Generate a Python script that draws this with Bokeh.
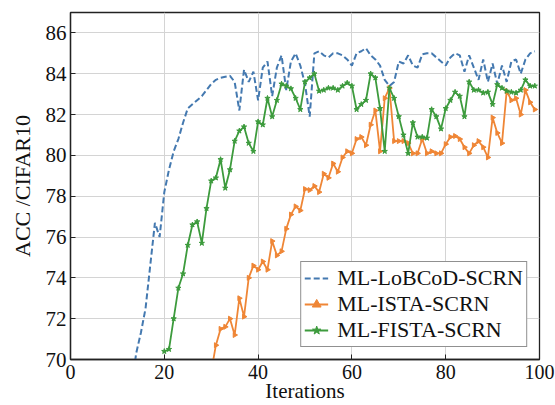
import math
from bokeh.plotting import figure
from bokeh.models import FixedTicker, Legend, LegendItem, Range1d
from bokeh.embed import file_html
from bokeh.resources import INLINE

# ---------------- data ----------------
lobcod_x = list(range(13, 100))
lobcod_y = [68.6, 70.3, 71.3, 72.5, 74.6, 76.7, 76.0, 78.2, 79.3, 80.2,
            80.8, 81.6, 82.3, 82.5, 82.7, 82.9, 83.2, 83.5, 83.7, 83.8,
            83.85, 83.9, 83.6, 82.2, 84.2, 83.6, 84.1, 82.7, 84.3, 84.6,
            82.9, 84.3, 84.9, 83.2, 84.6, 85.0, 84.4, 83.5, 81.9, 85.0,
            85.1, 84.9, 84.8, 85.0, 85.0, 84.9, 84.7, 84.4, 85.0, 85.1,
            85.25, 84.9, 84.7, 84.4, 83.7, 83.4, 83.6, 84.6, 84.5, 84.9,
            84.4, 84.3, 84.95, 85.0, 85.0, 84.8, 84.6, 84.4, 84.8, 85.0,
            84.9, 84.1, 84.9, 84.3, 83.7, 84.7, 83.6, 84.5, 83.5, 84.4,
            83.6, 84.6, 84.7, 84.0, 84.7, 85.0, 85.1]

ista_x = list(range(30, 100))
ista_y = [69.4, 70.7, 71.5, 71.6, 72.0, 71.2, 73.0, 72.1, 74.0, 74.6,
          74.4, 74.8, 74.4, 75.8, 75.1, 75.3, 76.4, 77.1, 77.5, 77.3,
          78.35, 78.3, 78.5, 78.2, 79.1, 78.9, 79.6, 79.2, 79.9, 80.2,
          80.1, 80.8, 80.9, 80.5, 81.5, 82.2, 80.2, 82.8, 83.3, 80.7,
          80.7, 80.7, 80.6, 80.1, 80.1, 80.8, 80.1, 80.2, 80.1, 80.1,
          80.55, 80.9, 80.95, 80.8, 80.4, 80.1, 80.5, 80.7, 80.4, 79.9,
          81.85, 81.1, 80.6, 83.15, 82.7, 82.8, 82.0, 83.2, 82.6, 82.25]

fista_x = list(range(20, 100))
fista_y = [70.4, 70.5, 72.0, 73.5, 74.2, 75.6, 76.6, 76.75, 75.7, 77.4,
           78.75, 78.9, 79.8, 78.4, 79.3, 80.7, 81.2, 81.4, 80.6, 80.2,
           81.65, 81.5, 82.8, 81.9, 82.7, 83.5, 83.4, 83.27, 82.8, 82.25,
           83.6, 83.8, 84.0, 83.15, 83.2, 83.3, 83.3, 83.2, 83.4, 83.55,
           83.4, 82.25, 82.5, 82.7, 84.0, 83.8, 82.3, 80.2, 83.3, 82.8,
           81.9, 81.0, 80.1, 81.6, 80.9, 80.9, 80.85, 82.25, 81.9, 81.3,
           82.3, 82.7, 83.1, 82.9, 81.9, 83.6, 83.2, 83.2, 83.06, 83.1,
           82.5, 83.47, 83.3, 83.15, 83.1, 83.06, 83.2, 83.7, 83.4, 83.4]

x_ticks = [0, 20, 40, 60, 80, 100]
y_ticks = [70, 72, 74, 76, 78, 80, 82, 84, 86]

labels = ["ML-LoBCoD-SCRN", "ML-ISTA-SCRN", "ML-FISTA-SCRN"]
x_title = "Iterations"
y_title = "ACC /CIFAR10"
colors = ["#4479b0", "#ef8636", "#3d9b3d"]

FONT = "Liberation Serif"

# ---------------- figure ----------------
p = figure(width=555, height=405, output_backend="svg", toolbar_location=None,
           x_range=Range1d(0, 100), y_range=Range1d(70, 87),
           min_border_left=70, min_border_right=16, min_border_top=12,
           min_border_bottom=46)
p.background_fill_color = "white"
p.border_fill_color = "white"
p.outline_line_color = "#222222"
p.outline_line_width = 1.3

for ax in (p.xaxis[0], p.yaxis[0]):
    ax.major_label_text_font = FONT
    ax.major_label_text_font_size = "21px"
    ax.major_label_text_color = "#111111"
    ax.axis_label_text_font = FONT
    ax.axis_label_text_font_size = "22px"
    ax.axis_label_text_font_style = "normal"
    ax.axis_label_text_color = "#111111"
    ax.major_tick_in = 5
    ax.major_tick_out = 0
    ax.minor_tick_in = 0
    ax.minor_tick_out = 0
    ax.axis_line_color = "#222222"
    ax.axis_line_width = 1.3
    ax.major_tick_line_color = "#222222"
    ax.major_label_standoff = 4

p.xaxis[0].ticker = FixedTicker(ticks=x_ticks)
p.yaxis[0].ticker = FixedTicker(ticks=y_ticks)
p.xaxis[0].axis_label = x_title
p.xaxis[0].major_label_text_font_size = "20px"
p.xaxis[0].axis_label_text_font_size = "21px"
p.xaxis[0].major_label_standoff = 5
p.xaxis[0].axis_label_standoff = -3
p.yaxis[0].axis_label = y_title
p.yaxis[0].axis_label_standoff = 8

p.xgrid.grid_line_color = "#d4d4d4"
p.ygrid.grid_line_color = "#d4d4d4"
p.xgrid.grid_line_width = 1
p.ygrid.grid_line_width = 1

l1 = p.line(lobcod_x, lobcod_y, line_color=colors[0], line_width=2,
            line_dash="6 3")
l2 = p.line(ista_x, ista_y, line_color=colors[1], line_width=1.8)
m2 = p.scatter(ista_x, ista_y, marker="triangle", angle=-math.pi / 2,
               size=5, fill_color=colors[1], line_color=colors[1])
l3 = p.line(fista_x, fista_y, line_color=colors[2], line_width=1.8)
m3 = p.scatter(fista_x, fista_y, marker="star", size=5.5,
               fill_color=colors[2], line_color=colors[2])

legend = Legend(items=[LegendItem(label=labels[0], renderers=[l1]),
                       LegendItem(label=labels[1], renderers=[l2, m2]),
                       LegendItem(label=labels[2], renderers=[l3, m3])],
                location="bottom_right")
legend.label_text_font = FONT
legend.label_text_font_size = "22px"
legend.label_text_color = "#111111"
legend.padding = 3
legend.spacing = -4
legend.margin = 12
legend.glyph_width = 24
legend.glyph_height = 22
legend.label_height = 22
legend.label_standoff = 9
legend.border_line_color = "#222222"
legend.border_line_width = 1.3
legend.background_fill_alpha = 1.0
p.add_layout(legend)

open("out.html", "w").write(file_html(p, INLINE))
